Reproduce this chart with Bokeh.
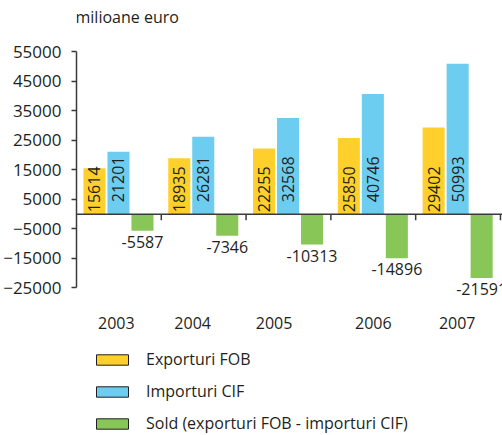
import math
from bokeh.plotting import figure
from bokeh.models import Range1d, FixedTicker, Span, Legend, LegendItem
from bokeh.core.properties import value
from bokeh.embed import file_html
from bokeh.resources import INLINE

# ---------------- data ----------------
years = ["2003", "2004", "2005", "2006", "2007"]
exporturi_fob = [15614, 18935, 22255, 25850, 29402]
importuri_cif = [21201, 26281, 32568, 40746, 50993]
sold = [-5587, -7346, -10313, -14896, -21591]
y_tick_values = [55000, 45000, 35000, 25000, 15000, 5000, -5000, -15000, -25000]
unit_label = "milioane euro"
series_names = ["Exporturi FOB", "Importuri CIF", "Sold (exporturi FOB - importuri CIF)"]

# ---------------- style / layout ----------------
FONT = "Open Sans"
TXT = "#231F20"
AXIS = "#3a3a3a"
COLORS = ["#FFD02B", "#6CCDF0", "#88C657"]
W, H = 502, 435
LEFT = 76
BAR_W = 0.26
BAR_OFFSETS = [0.212, 0.495, 0.778]
YEAR_LABEL_POS = [0.47, 1.37, 2.33, 3.50, 4.49]

p = figure(width=W, height=H, output_backend="svg", toolbar_location=None,
           x_axis_type=None, x_range=Range1d(0, 5.024),
           y_range=Range1d(-75017, 72440),
           min_border_left=LEFT, min_border_right=0, min_border_top=0,
           min_border_bottom=0, background_fill_color="white",
           border_fill_color="white")
p.outline_line_color = None
p.grid.visible = False

idx = list(range(len(years)))
series = [exporturi_fob, importuri_cif, sold]
renderers = []
for k, vals in enumerate(series):
    xs = [i + BAR_OFFSETS[k] for i in idx]
    p.vbar(x=xs, top=vals, bottom=0, width=BAR_W, fill_color=COLORS[k], line_color=None)
    # legend proxy (outlined box, not drawn in the plot area)
    r = p.vbar(x=[float("nan")], top=[float("nan")], bottom=0, width=BAR_W,
               fill_color=COLORS[k], line_color=TXT, line_width=1)
    renderers.append(r)

# value labels inside positive bars (rotated)
for k, off in zip([0, 1], [-2, -12]):
    xs = [i + BAR_OFFSETS[k] for i in idx]
    p.text(x=xs, y=[0] * len(xs), text=[str(v) for v in series[k]], angle=math.pi / 2,
           text_align="left", text_baseline="middle", y_offset=off,
           text_font=value(FONT), text_font_size="16px", text_color=TXT)

# labels below negative bars
xs = [i + BAR_OFFSETS[2] for i in idx]
p.text(x=xs, y=sold, text=[str(v) for v in sold], text_align="center",
       text_baseline="top", y_offset=5, text_font=value(FONT),
       text_font_size="16px", text_color=TXT)

# zero line with ticks between groups
p.add_layout(Span(location=0, dimension="width", line_color=AXIS, line_width=1.5))
p.ray(x=[i + 1 for i in idx], y=[0] * len(idx), length=6, length_units="screen",
      angle=-math.pi / 2, line_color=AXIS, line_width=1.5)

# year labels
p.text(x=YEAR_LABEL_POS, y=[y_tick_values[-1]] * len(years), y_offset=35, text=years,
       text_align="center", text_baseline="middle", text_font=value(FONT),
       text_font_size="16px", text_color=TXT)

# unit label
p.text(x=[0], y=[y_tick_values[0]], y_offset=-35, x_offset=-1, text=[unit_label],
       text_align="left", text_baseline="middle", text_font=value(FONT),
       text_font_size="16px", text_color=TXT)

# y axis
ya = p.yaxis[0]
ya.ticker = FixedTicker(ticks=y_tick_values)
ya.bounds = (min(y_tick_values), max(y_tick_values))
ya.minor_tick_line_color = None
ya.major_tick_in = 0
ya.major_tick_out = 5
ya.major_label_standoff = 10
ya.axis_line_color = AXIS
ya.axis_line_width = 1.5
ya.major_tick_line_color = AXIS
ya.major_tick_line_width = 1.5
ya.major_label_text_font = FONT
ya.major_label_text_font_size = "17px"
ya.major_label_text_color = TXT

legend = Legend(items=[LegendItem(label=n, renderers=[r]) for n, r in zip(series_names, renderers)],
                location=(16, 1), glyph_width=40, glyph_height=13, label_standoff=14,
                spacing=10, padding=0, margin=0, border_line_alpha=0,
                background_fill_alpha=0, label_text_font=FONT,
                label_text_font_size="16px", label_text_color=TXT)
p.add_layout(legend)

open("out.html", "w").write(file_html(p, INLINE))
